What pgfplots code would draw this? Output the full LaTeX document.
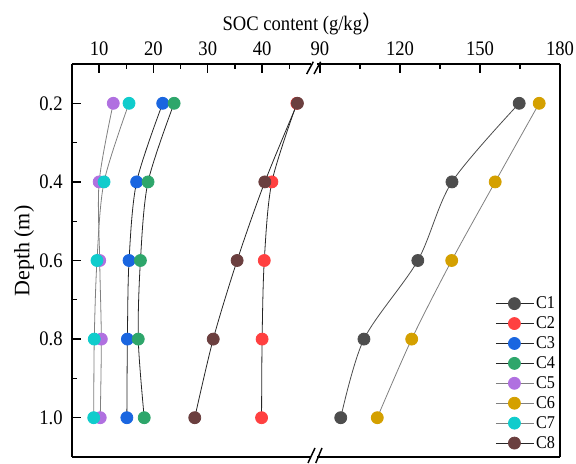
\documentclass[border=0pt]{standalone}
\usepackage{fontspec}
\setmainfont{Liberation Serif}[FakeStretch=0.9]
\newfontfamily\plain{Liberation Serif}
\newfontfamily\cjk{Noto Sans CJK SC}
\usepackage{pgfplots}
\pgfplotsset{compat=1.18}
\definecolor{cA}{HTML}{4D4D4D}
\definecolor{cB}{HTML}{FF4040}
\definecolor{cC}{HTML}{1A66E0}
\definecolor{cD}{HTML}{2EA66B}
\definecolor{cE}{HTML}{B070E0}
\definecolor{cF}{HTML}{D4A000}
\definecolor{cG}{HTML}{10CCCC}
\definecolor{cH}{HTML}{6B3F3F}
\pgfplotsset{
  ser/.style 2 args={draw=#2, line width=0.6pt, smooth, tension=0.5, mark=*, mark size=4.5pt,
     mark options={draw=#1, fill=#1, solid}},
  brk/.style={scale only axis, height=294.75pt, ymin=0.1, ymax=1.1, y dir=reverse,
     axis x line*=box,
     axis line style={-, line width=1.2pt},
     every outer x axis line/.append style={-},
     every outer y axis line/.append style={-},
     major tick length=7pt, minor tick length=4pt,
     every tick/.style={black, line width=1pt},
     tick align=inside,
     xtick pos=right, xticklabel pos=right,
     x tick label style={yshift=3pt},
     tick label style={font=\fontsize{15.5}{17}\selectfont},
     /pgf/number format/assume math mode=true,
     clip=false},
}
\begin{document}
\begin{tikzpicture}
\useasboundingbox (0,0) rectangle (432pt,348pt);
% left part
\begin{axis}[brk, at={(54pt,300pt)}, anchor=north west, width=179.25pt,
  xmin=5, xmax=49.0,
  axis y line*=left, ytick pos=left, yticklabel pos=left,
  xtick={10,20,30,40}, minor xtick={15,25,35,45},
  ytick={0.2,0.4,0.6,0.8,1.0}, minor ytick={0.3,0.5,0.7,0.9},
  yticklabel style={/pgf/number format/fixed, /pgf/number format/fixed zerofill, /pgf/number format/precision=1},
  y tick label style={xshift=-3.5pt},
  ylabel={Depth (m)},
  ylabel style={at={(axis description cs:-0.2008,0.524)}, anchor=center, inner sep=0pt,
     font=\plain\fontsize{16.5}{18}\selectfont},
]
\addplot[ser={cB}{black!85}] coordinates {(46.4,0.2) (41.8,0.4) (40.4,0.6) (40.0,0.8) (39.9,1.0)};
\addplot[ser={cC}{black!85}] coordinates {(21.7,0.2) (16.9,0.4) (15.5,0.6) (15.2,0.8) (15.1,1.0)};
\addplot[ser={cD}{black!85}] coordinates {(23.8,0.2) (19.0,0.4) (17.6,0.6) (17.2,0.8) (18.3,1.0)};
\addplot[ser={cE}{gray}] coordinates {(12.6,0.2) (10.0,0.4) (10.1,0.6) (10.4,0.8) (10.2,1.0)};
\addplot[ser={cG}{gray}] coordinates {(15.5,0.2) (10.9,0.4) (9.6,0.6) (9.1,0.8) (9.0,1.0)};
\addplot[ser={cH}{black!85}] coordinates {(46.5,0.2) (40.5,0.4) (35.4,0.6) (31.0,0.8) (27.6,1.0)};
\end{axis}
% right part
\begin{axis}[brk, at={(237.75pt,300pt)}, anchor=north west, width=182.25pt,
  xmin=88.9, xmax=180,
  axis y line*=right, ytick=\empty,
  xtick={90,120,150,180}, minor xtick={105,135,165},
  legend style={at={(1,0)}, anchor=south east, draw=none, fill=none,
     font=\fontsize{13.5}{15}\selectfont, row sep=0.5pt, inner xsep=1.5pt, inner ysep=3pt},
  legend cell align=left,
  legend image code/.code={\draw[mark repeat=2, mark phase=2, #1] plot coordinates {(0pt,0pt) (14pt,0pt) (28pt,0pt)};},
]
\addlegendimage{ser={cA}{black!85}}
\addlegendimage{ser={cB}{black!85}}
\addlegendimage{ser={cC}{black!85}}
\addlegendimage{ser={cD}{black!85}}
\addlegendimage{ser={cE}{gray}}
\addlegendimage{ser={cF}{gray}}
\addlegendimage{ser={cG}{gray}}
\addlegendimage{ser={cH}{black!85}}
\legend{C1,C2,C3,C4,C5,C6,C7,C8}
\addplot[ser={cA}{black!70}, forget plot] coordinates {(164.7,0.2) (139.5,0.4) (126.7,0.6) (106.5,0.8) (97.8,1.0)};
\addplot[ser={cF}{gray}, forget plot] coordinates {(172.2,0.2) (155.7,0.4) (139.4,0.6) (124.4,0.8) (111.5,1.0)};
\end{axis}
% axis break marks
\draw[line width=1.1pt] (230pt,292.5pt) -- (235pt,301.7pt);
\draw[line width=1.1pt] (235.5pt,292.5pt) -- (240.5pt,301.7pt);
\draw[line width=1.1pt] (231pt,0.75pt) -- (236.25pt,12pt);
\draw[line width=1.1pt] (236.8pt,0.75pt) -- (241.5pt,12pt);
% title
\node[anchor=base, font=\fontsize{15.5}{17}\selectfont, inner sep=0pt] at (227pt,324.75pt) {SOC content (g/kg{\cjk ）}};
\end{tikzpicture}
\end{document}
